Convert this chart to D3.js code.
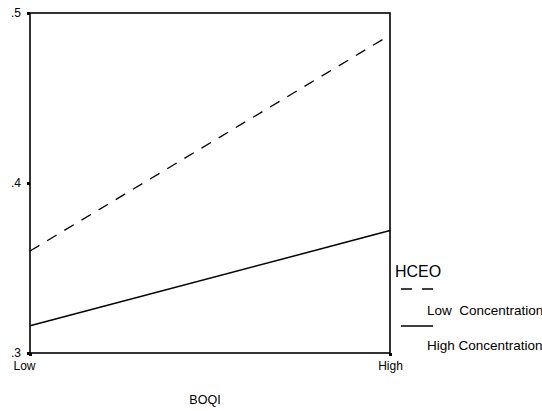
<!DOCTYPE html>
<html lang="en">
<head>
    <meta charset="utf-8" />
    <title>HCEO x BOQI interaction</title>
    <script src="https://d3js.org/d3.v7.min.js"></script>
    <style>
        body { margin: 0; background: #fff; }
        text { font-family: "Liberation Sans", Arial, sans-serif; fill: #000; }
    </style>
</head>
<body>
    <script>
        // values
        var categories = ["Low", "High"];
        var lowConcentration = [0.360, 0.487];
        var highConcentration = [0.316, 0.372];
        var yTicks = [0.3, 0.4, 0.5];
        var yTickLabels = [".3", ".4", ".5"];
        var seriesNames = ["Low  Concentration", "High Concentration"];

        var w = 542;
        var h = 411;
        var plotLeft = 30, plotTop = 13, plotRight = 390, plotBottom = 353;

        var svg = d3.select("body").append("svg").attr("width", w).attr("height", h);

        var x = d3.scalePoint().domain(categories).range([plotLeft, plotRight]);
        var y = d3.scaleLinear().domain([0.3, 0.5]).range([plotBottom, plotTop]);

        // y axis
        var yAxis = svg.append("g").attr("transform", "translate(" + plotLeft + ",0)")
            .call(d3.axisLeft(y).tickValues(yTicks)
                .tickFormat(function (d, i) { return yTickLabels[i]; })
                .tickSize(3).tickPadding(6));
        yAxis.select(".domain").remove();
        yAxis.selectAll("line").attr("stroke-width", 3);
        yAxis.selectAll("text").style("font-size", "12px").attr("font-family", null);

        // x axis
        var xAxis = svg.append("g").attr("transform", "translate(0," + plotBottom + ")")
            .call(d3.axisBottom(x).tickSize(3).tickPadding(5));
        xAxis.select(".domain").remove();
        xAxis.selectAll("line").attr("stroke-width", 3);
        xAxis.selectAll("text").style("font-size", "12px").attr("font-family", null)
            .attr("dx", function (d) { return d === "Low" ? -6 : 0; });

        // plot frame
        svg.append("rect")
            .attr("x", plotLeft).attr("y", plotTop)
            .attr("width", plotRight - plotLeft).attr("height", plotBottom - plotTop)
            .attr("fill", "none").attr("stroke", "#000").attr("stroke-width", 1.6);

        var line = d3.line()
            .x(function (d, i) { return x(categories[i]); })
            .y(function (d) { return y(d); });

        svg.append("path").datum(lowConcentration)
            .attr("d", line).attr("fill", "none").attr("stroke", "#000")
            .attr("stroke-width", 1.3).attr("stroke-dasharray", "11,9");

        svg.append("path").datum(highConcentration)
            .attr("d", line).attr("fill", "none").attr("stroke", "#000")
            .attr("stroke-width", 1.5);

        // x axis title
        svg.append("text").attr("x", 205).attr("y", 404)
            .attr("text-anchor", "middle").style("font-size", "12.5px").text("BOQI");

        // legend
        svg.append("text").attr("x", 395).attr("y", 277)
            .style("font-size", "16px").text("HCEO");

        svg.append("line").attr("x1", 401).attr("x2", 433).attr("y1", 289).attr("y2", 289)
            .attr("stroke", "#000").attr("stroke-width", 1.3).attr("stroke-dasharray", "11,10");
        svg.append("text").attr("x", 427).attr("y", 315)
            .style("font-size", "13.5px").style("white-space", "pre").text(seriesNames[0]);

        svg.append("line").attr("x1", 401).attr("x2", 433).attr("y1", 326).attr("y2", 326)
            .attr("stroke", "#000").attr("stroke-width", 1.5);
        svg.append("text").attr("x", 427).attr("y", 350)
            .style("font-size", "13.5px").text(seriesNames[1]);
    </script>
</body>
</html>
